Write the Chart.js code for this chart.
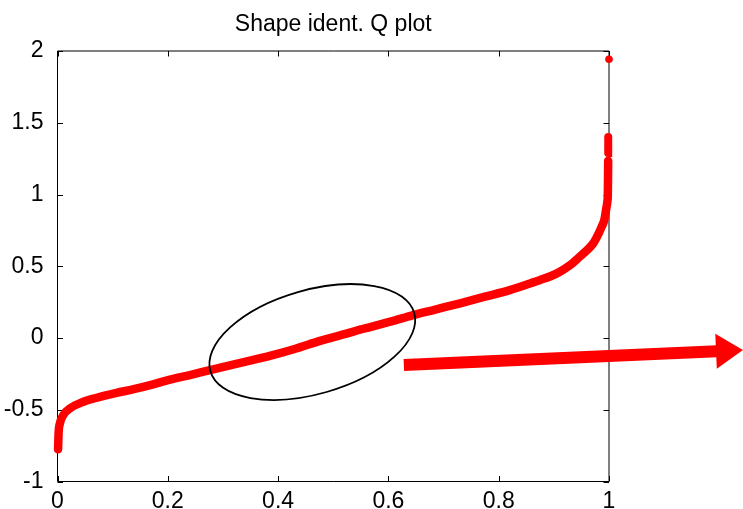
<!DOCTYPE html>
<html>
<head>
<meta charset="utf-8">
<title>Shape ident. Q plot</title>
<script src="https://cdn.jsdelivr.net/npm/chart.js@4.4.0/dist/chart.umd.min.js"></script>
<style>
  body { margin: 0; background: #fff; }
  canvas { display: block; }
</style>
</head>
<body>
<canvas id="chart" width="743" height="509"></canvas>
<script>
// Quantile curve, values
const qX = [0.001, 0.0015, 0.002, 0.004, 0.0105, 0.0227, 0.047, 0.07, 0.107, 0.14,
  0.168, 0.204, 0.24, 0.2765, 0.33, 0.385, 0.43, 0.476, 0.524, 0.5485,
  0.567, 0.60, 0.639, 0.685, 0.730, 0.775, 0.820, 0.855, 0.875, 0.895,
  0.911, 0.93, 0.947, 0.96, 0.9716, 0.98, 0.9868, 0.9915, 0.9946, 0.997,
  0.9978, 0.9982, 0.9985];
const qY = [-0.776, -0.72, -0.66, -0.60, -0.537, -0.49, -0.444, -0.418, -0.383, -0.355,
  -0.328, -0.29, -0.258, -0.224, -0.175, -0.125, -0.077, -0.02, 0.03, 0.058,
  0.076, 0.11, 0.153, 0.198, 0.242, 0.288, 0.334, 0.378, 0.404, 0.432,
  0.462, 0.509, 0.567, 0.612, 0.66, 0.718, 0.776, 0.822, 0.892, 0.95,
  0.99, 1.10, 1.235];

// upper group of points at p ~ 1, after a small gap
const tailX = [0.9985, 0.9986];
const tailY = [1.29, 1.40];

// single point at the top
const topX = [1.0];
const topY = [1.942];

const xTicks = [0, 0.2, 0.4, 0.6, 0.8, 1];
const xTickLabels = ['0', '0.2', '0.4', '0.6', '0.8', '1'];
const yTicks = [-1, -0.5, 0, 0.5, 1, 1.5, 2];
const yTickLabels = ['-1', '-0.5', '0', '0.5', '1', '1.5', '2'];

// hand drawn marks on top of the plot (data coordinates)
const ellipseCenter = { x: 0.462, y: -0.028 };
const arrowFrom = { x: 0.628, y: -0.188 };
const arrowTo = { x: 1.243, y: -0.084 };

const FONT = "'Liberation Sans', Arial, Helvetica, sans-serif";
const RED = '#ff0000';

const toPoints = (xs, ys) => xs.map((x, i) => ({ x: x, y: ys[i] }));

// box around the axes with inward ticks on all four sides
const axesBox = {
  id: 'axesBox',
  beforeDatasetsDraw(chart) {
    const { ctx, chartArea: a, scales } = chart;
    const len = 5.5;
    ctx.save();
    ctx.strokeStyle = '#000';
    ctx.lineWidth = 1;
    ctx.beginPath();
    ctx.rect(a.left, a.top, a.right - a.left, a.bottom - a.top);
    scales.x.ticks.forEach(t => {
      const px = Math.round(scales.x.getPixelForValue(t.value)) + 0.5;
      ctx.moveTo(px, a.bottom); ctx.lineTo(px, a.bottom - len);
      ctx.moveTo(px, a.top); ctx.lineTo(px, a.top + len);
    });
    scales.y.ticks.forEach(t => {
      const py = Math.round(scales.y.getPixelForValue(t.value)) + 0.5;
      ctx.moveTo(a.left, py); ctx.lineTo(a.left + len, py);
      ctx.moveTo(a.right, py); ctx.lineTo(a.right - len, py);
    });
    ctx.stroke();
    ctx.restore();
  }
};

// ellipse and arrow annotations
const marks = {
  id: 'marks',
  afterDraw(chart) {
    const { ctx, scales } = chart;
    const px = v => scales.x.getPixelForValue(v);
    const py = v => scales.y.getPixelForValue(v);
    ctx.save();

    // ellipse
    ctx.strokeStyle = '#000';
    ctx.lineWidth = 1.8;
    ctx.beginPath();
    ctx.ellipse(px(ellipseCenter.x), py(ellipseCenter.y), 106, 52, -16 * Math.PI / 180, 0, Math.PI * 2);
    ctx.stroke();

    // arrow
    const x0 = px(arrowFrom.x), y0 = py(arrowFrom.y);
    const x1 = px(arrowTo.x), y1 = py(arrowTo.y);
    const ang = Math.atan2(y1 - y0, x1 - x0);
    const headLen = 27, headHalf = 17.5;
    const bx = x1 - headLen * Math.cos(ang), by = y1 - headLen * Math.sin(ang);
    ctx.strokeStyle = RED;
    ctx.fillStyle = RED;
    ctx.lineWidth = 12;
    ctx.lineCap = 'butt';
    ctx.beginPath();
    ctx.moveTo(x0, y0);
    ctx.lineTo(bx + Math.cos(ang), by + Math.sin(ang));
    ctx.stroke();
    ctx.beginPath();
    ctx.moveTo(x1, y1);
    ctx.lineTo(bx + headHalf * Math.sin(ang), by - headHalf * Math.cos(ang));
    ctx.lineTo(bx - headHalf * Math.sin(ang), by + headHalf * Math.cos(ang));
    ctx.closePath();
    ctx.fill();
    ctx.restore();
  }
};

const ctx = document.getElementById('chart').getContext('2d');

const chart = new Chart(ctx, {
  type: 'scatter',
  data: {
    datasets: [{
      label: 'Q plot',
      data: toPoints(qX, qY),
      showLine: true,
      cubicInterpolationMode: 'monotone',
      borderColor: RED,
      borderWidth: 8.5,
      borderCapStyle: 'round',
      borderJoinStyle: 'round',
      pointRadius: 0,
      clip: false
    }, {
      label: 'tail',
      data: toPoints(tailX, tailY),
      showLine: true,
      borderColor: RED,
      borderWidth: 8,
      borderCapStyle: 'round',
      pointRadius: 0,
      clip: false
    }, {
      label: 'max',
      data: toPoints(topX, topY),
      showLine: false,
      backgroundColor: RED,
      borderWidth: 0,
      pointRadius: 3.8,
      clip: false
    }]
  },
  options: {
    responsive: false,
    animation: false,
    events: [],
    layout: {
      padding: { left: 0, right: 134, top: 0, bottom: 0 }
    },
    plugins: {
      legend: { display: false },
      tooltip: { enabled: false },
      title: {
        display: true,
        fullSize: false,
        text: 'Shape ident. Q plot',
        color: '#000',
        font: { family: FONT, size: 23, weight: 'normal' },
        padding: { top: 10.8, bottom: 12.6 }
      }
    },
    scales: {
      x: {
        type: 'linear',
        min: 0,
        max: 1,
        afterFit: s => { s.height = 27.5; },
        afterBuildTicks: s => { s.ticks = xTicks.map(v => ({ value: v })); },
        grid: { display: false },
        border: { display: false },
        ticks: {
          color: '#000',
          padding: -2,
          maxRotation: 0,
          autoSkip: false,
          font: { family: FONT, size: 23 },
          callback: (v, i) => xTickLabels[i]
        }
      },
      y: {
        type: 'linear',
        min: -1,
        max: 2,
        afterFit: s => { s.width = 57.5; },
        afterBuildTicks: s => { s.ticks = yTicks.map(v => ({ value: v })); },
        grid: { display: false },
        border: { display: false },
        ticks: {
          color: '#000',
          padding: 6,
          autoSkip: false,
          font: { family: FONT, size: 23 },
          callback: (v, i) => yTickLabels[i]
        }
      }
    }
  },
  plugins: [axesBox, marks]
});
</script>
</body>
</html>
